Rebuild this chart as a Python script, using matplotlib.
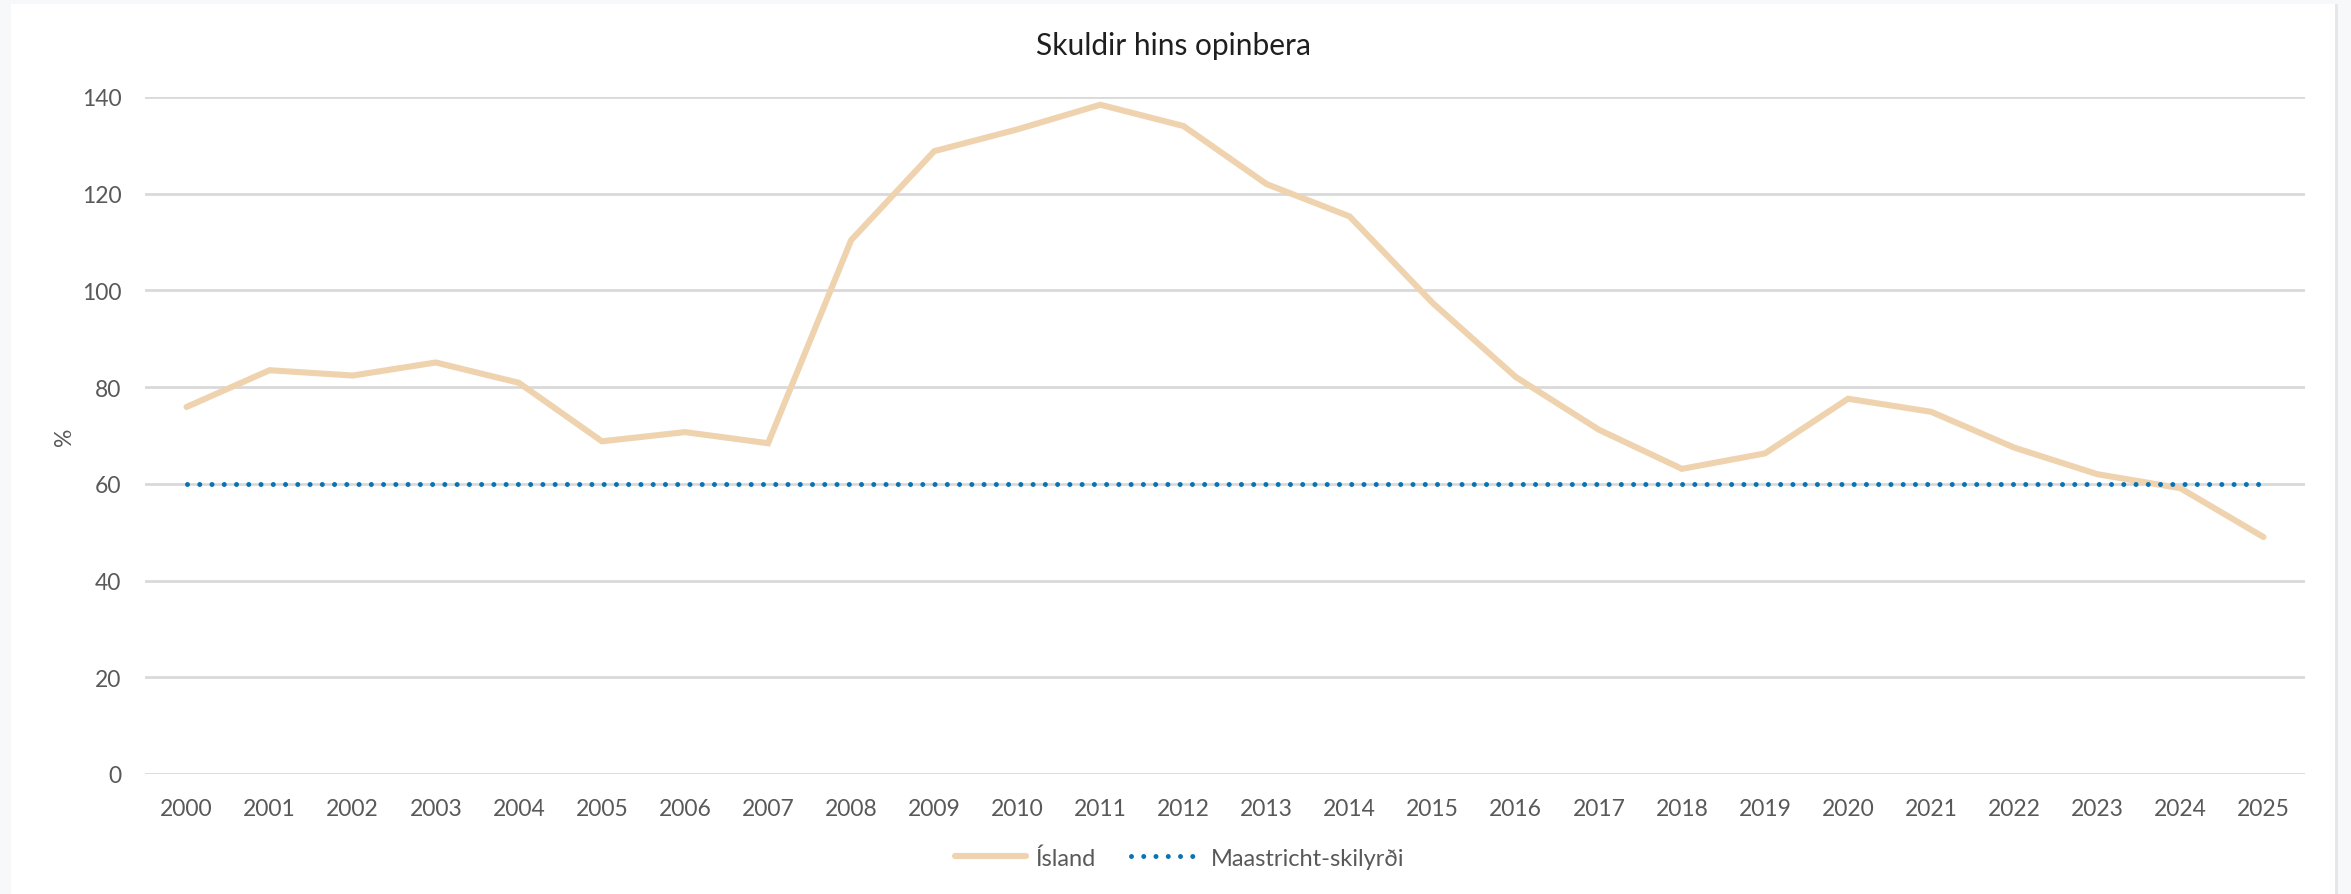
import matplotlib
matplotlib.use("Agg")
import matplotlib.pyplot as plt
from matplotlib.patches import Rectangle

plt.rcParams['font.family'] = ['Lato', 'DejaVu Sans']

years = [str(y) for y in range(2000, 2026)]
island = [75.9, 83.5, 82.4, 85.1, 80.9, 68.8, 70.7, 68.4, 110.4, 128.8, 133.3, 138.4,
          134.0, 122.0, 115.3, 97.4, 82.1, 71.2, 63.1, 66.3, 77.6, 74.9, 67.5, 62.0, 59.1, 49.0]
maastricht = [60] * 26
yticks = [0, 20, 40, 60, 80, 100, 120, 140]

W, H = 2351, 895
fig = plt.figure(figsize=(W / 100, H / 100), dpi=100)
fig.patch.set_facecolor('#F7F8FA')
# white chart panel
fig.patches.append(Rectangle((11 / W, 0), (2335 - 11) / W, (H - 5) / H,
                             transform=fig.transFigure, facecolor='white',
                             edgecolor='none', zorder=-2))
fig.patches.append(Rectangle((2335 / W, 0), 3 / W, (H - 5) / H,
                             transform=fig.transFigure, facecolor='#E6E7EB',
                             edgecolor='none', zorder=-2))

ax = fig.add_axes([145 / W, 1 - 775 / H, (2305 - 145) / W, (775 - 98) / H])
ax.set_facecolor('none')
ax.set_zorder(1)

x = list(range(len(years)))
ax.plot(x, island, color='#EFD3AF', lw=4.4, solid_capstyle='round',
        solid_joinstyle='miter', label='Ísland', zorder=3)
ax.plot(x, maastricht, color='#0A73B3', lw=3.6, linestyle=(0, (0.001, 2.45)),
        dash_capstyle='round', label='Maastricht-skilyrði', zorder=4)

ax.set_xlim(-0.5, len(years) - 0.5)
ax.set_ylim(0, 140)
ax.set_yticks(yticks)
ax.set_yticklabels([str(v) for v in yticks])
ax.set_xticks(x)
ax.set_xticklabels(years)
ax.tick_params(axis='both', length=0, labelsize=16.5, colors='#595959')
ax.tick_params(axis='y', pad=17)
ax.tick_params(axis='x', pad=17)
ax.grid(axis='y', color='#D9D9D9', lw=2)
ax.set_axisbelow(True)
for s in ax.spines.values():
    s.set_visible(False)

ax.set_ylabel('%', fontsize=16.5, color='#595959', labelpad=5)

fig.text(1173 / W, 1 - 46 / H, 'Skuldir hins opinbera', ha='center', va='center',
         fontsize=21.5, color='#1F1F1F')

leg = fig.legend(loc='center', bbox_to_anchor=(1180 / W, 1 - 859 / H), ncol=2,
                 frameon=False, fontsize=17, handlelength=3.0, columnspacing=1.5,
                 handletextpad=0.4, labelcolor='#595959')

fig.savefig('out.png', dpi=100, facecolor=fig.get_facecolor())
